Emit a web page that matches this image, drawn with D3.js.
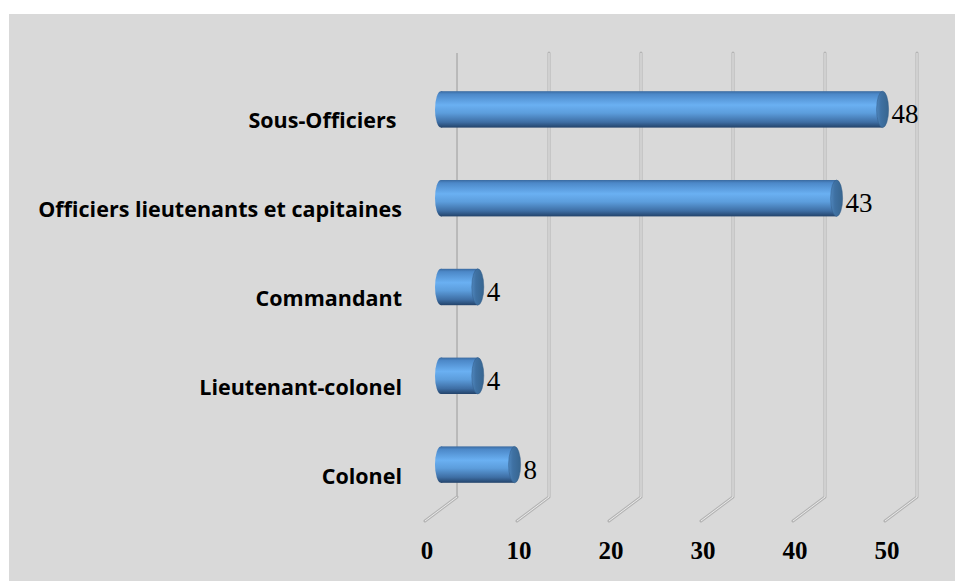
<!DOCTYPE html>
<html>
<head>
<meta charset="utf-8">
<script src="https://cdn.jsdelivr.net/npm/d3@7"></script>
<style>
  body { margin: 0; background: #fff; }
  svg { display: block; }
</style>
</head>
<body>
<svg id="plot"></svg>
<script>
var categories = ["Sous-Officiers ", "Officiers lieutenants et capitaines", "Commandant", "Lieutenant-colonel", "Colonel"];
var values = [48, 43, 4, 4, 8];
var tickValues = [0, 10, 20, 30, 40, 50];

var width = 955, height = 581;

// back wall of the 3d plot, and the depth offset towards the viewer
var back = {left: 457, top: 53, bottom: 497},
    depth = {dx: -32, dy: 24};

var svg = d3.select("#plot")
    .attr("width", width)
    .attr("height", height);

svg.append("rect")
    .attr("x", 9).attr("y", 14)
    .attr("width", width - 9).attr("height", height - 14)
    .attr("fill", "#d9d9d9");

var xScale = d3.scaleLinear()
    .domain([0, 50])
    .range([0, 460]);

var yScale = d3.scaleBand()
    .domain(categories)
    .range([0, back.bottom - back.top]);

var defs = svg.append("defs");
var grad = defs.append("linearGradient")
    .attr("id", "cyl")
    .attr("x1", 0).attr("y1", 0).attr("x2", 0).attr("y2", 1);
[[0, "#3a6aa0"], [0.08, "#4c88c8"], [0.38, "#6ab0f2"], [0.6, "#5c9ddc"], [0.85, "#3e6ea4"], [1, "#23436a"]]
  .forEach(function(s) {
    grad.append("stop").attr("offset", s[0]).attr("stop-color", s[1]);
  });
var capGrad = defs.append("linearGradient")
    .attr("id", "cap")
    .attr("x1", 0).attr("y1", 0).attr("x2", 1).attr("y2", 0);
[[0, "#4f86bd"], [0.35, "#3f71a3"], [1, "#37658f"]]
  .forEach(function(s) {
    capGrad.append("stop").attr("offset", s[0]).attr("stop-color", s[1]);
  });

// grid: vertical lines on the back wall + floor lines coming forward
var grid = svg.append("g").attr("fill", "none");
tickValues.forEach(function(t, i) {
  var x = back.left + xScale(t);
  var pts = [[x, back.top], [x, back.bottom], [x + depth.dx, back.bottom + depth.dy]];
  if (i > 0) {
    grid.append("polyline")
        .attr("points", pts.map(p => p.join(",")).join(" "))
        .attr("stroke", "#b4b4b4")
        .attr("stroke-width", 3)
        .attr("stroke-linejoin", "round")
        .attr("stroke-linecap", "round");
    grid.append("polyline")
        .attr("points", pts.map(p => p.join(",")).join(" "))
        .attr("stroke", "#ececec")
        .attr("stroke-width", 1)
        .attr("stroke-linejoin", "round");
  } else {
    grid.append("polyline")
        .attr("points", pts.slice(0, 2).map(p => p.join(",")).join(" "))
        .attr("stroke", "#9a9a9a")
        .attr("stroke-width", 1);
    grid.append("polyline")
        .attr("points", pts.slice(1).map(p => p.join(",")).join(" "))
        .attr("stroke", "#b4b4b4")
        .attr("stroke-width", 3)
        .attr("stroke-linecap", "round");
    grid.append("polyline")
        .attr("points", pts.slice(1).map(p => p.join(",")).join(" "))
        .attr("stroke", "#ececec")
        .attr("stroke-width", 1);
  }
});

// bars sit half way between back wall and front
var midX = back.left + depth.dx / 2,
    midY = back.top + depth.dy / 2,
    barH = yScale.bandwidth() * 0.41,
    rx = 6;

var bars = svg.append("g").selectAll("g")
  .data(categories.map((c, i) => ({name: c, value: values[i]})))
  .join("g")
    .attr("transform", d => "translate(0," + (midY + yScale(d.name) + yScale.bandwidth() / 2) + ")");

bars.append("ellipse")
    .attr("cx", midX + xScale(0))
    .attr("cy", 0)
    .attr("rx", rx).attr("ry", barH / 2)
    .attr("fill", "url(#cyl)");

bars.append("rect")
    .attr("x", midX + xScale(0))
    .attr("y", -barH / 2)
    .attr("width", d => xScale(d.value))
    .attr("height", barH)
    .attr("fill", "url(#cyl)");

bars.append("ellipse")
    .attr("cx", d => midX + xScale(d.value))
    .attr("cy", 0)
    .attr("rx", rx).attr("ry", barH / 2)
    .attr("fill", "url(#cap)")
    .attr("stroke", "#325d88")
    .attr("stroke-width", 0.5);

bars.append("text")
    .attr("x", d => midX + xScale(d.value) + rx + 3)
    .attr("y", 14)
    .attr("font-family", "'Liberation Serif', 'Times New Roman', serif")
    .attr("font-size", 27)
    .attr("fill", "#000")
    .text(d => d.value);

// category labels, aligned to the front plane
svg.append("g").selectAll("text")
  .data(categories)
  .join("text")
    .attr("x", 402)
    .attr("y", d => back.top + depth.dy + yScale(d) + yScale.bandwidth() / 2 + 7)
    .attr("text-anchor", "end")
    .attr("font-family", "'Open Sans', sans-serif")
    .attr("font-weight", "bold")
    .attr("font-size", 21.5)
    .style("white-space", "pre")
    .attr("fill", "#000")
    .text(d => d);

// tick labels along the front edge
svg.append("g").selectAll("text")
  .data(tickValues)
  .join("text")
    .attr("x", d => back.left + depth.dx + xScale(d) + 2)
    .attr("y", 559)
    .attr("text-anchor", "middle")
    .attr("font-family", "'Liberation Serif', 'Times New Roman', serif")
    .attr("font-weight", "bold")
    .attr("font-size", 25)
    .attr("fill", "#000")
    .text(d => d);
</script>
</body>
</html>
